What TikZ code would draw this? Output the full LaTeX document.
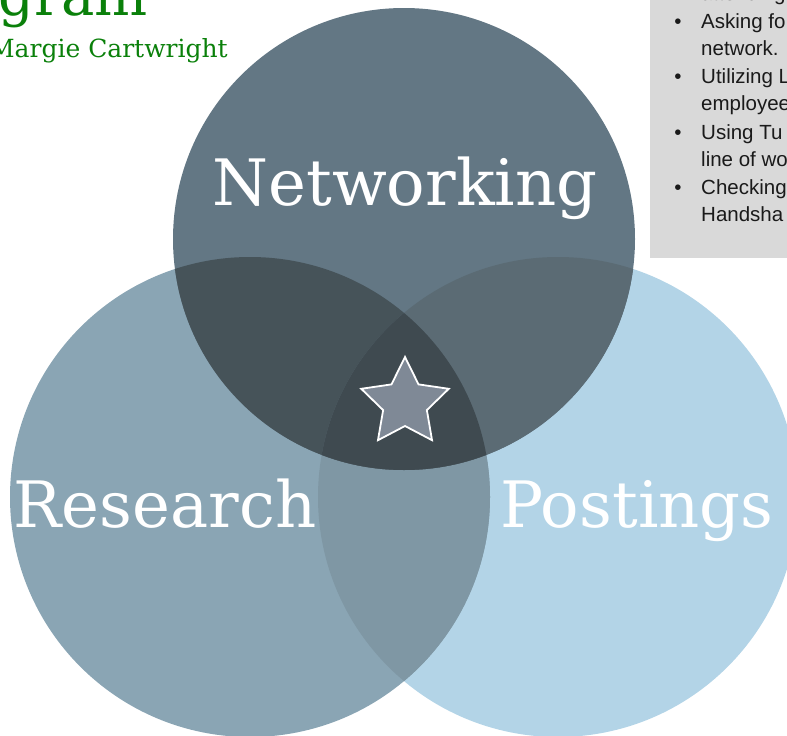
\documentclass[tikz,border=0pt]{standalone}
\usepackage{fontspec}
\usetikzlibrary{shapes.geometric}

\newfontfamily\slabfont{DejaVu Serif}
\newfontfamily\listfont{Liberation Sans}

\definecolor{netcol}{HTML}{637784}
\definecolor{rescol}{HTML}{8AA5B4}
\definecolor{postcol}{HTML}{B3D4E7}
\definecolor{nrcol}{HTML}{465359}
\definecolor{npcol}{HTML}{5B6B74}
\definecolor{rpcol}{HTML}{7F97A4}
\definecolor{allcol}{HTML}{3F4A50}
\definecolor{starcol}{HTML}{7F8996}
\definecolor{titlegreen}{HTML}{0A800A}
\definecolor{boxgray}{HTML}{D9D9D9}
\definecolor{listtext}{HTML}{1A1A1A}

\begin{document}
\begin{tikzpicture}[x=1pt, y=-1pt,
    set/.style={circle, minimum size=480, inner sep=0pt},
    setlabel/.style={text=white, inner sep=0pt, anchor=base,
        font=\slabfont\fontsize{64}{64}\selectfont},
    titletext/.style={text=titlegreen, inner sep=0pt, anchor=base east},
    item/.style={anchor=base west, align=left, inner sep=0pt, text=listtext,
        font=\listfont\fontsize{20.5}{27}\selectfont},
    bullet/.style={anchor=base, inner sep=0pt, text=listtext,
        font=\listfont\fontsize{20.5}{27}\selectfont}]

        \useasboundingbox (0,0) rectangle (787,736);
        \clip (0,0) rectangle (787,736);

        % Set Postings
        \node [set,
            fill=postcol] (P) at (558,497) {};

        % Set Research
        \node [set,
            fill=rescol,
            path picture={\fill[rpcol] (P.center) circle (240);}] (R) at (250,497) {};

        % Set Networking
        \node [set,
            minimum size=462,
            fill=netcol,
            path picture={
                \fill[nrcol] (R.center) circle (240);
                \fill[npcol] (P.center) circle (240);
                \clip (R.center) circle (240);
                \fill[allcol] (P.center) circle (240);}] (N) at (404,239) {};

        % Star in the middle
        \node [star,
            star points=5,
            star point ratio=2,
            minimum size=92,
            inner sep=0pt,
            fill=starcol,
            draw=white,
            line width=1.8pt] (S) at (405,403) {};

        % Set labels
        \node [setlabel] (Nlab) at (405,205) {Networking};
        \node [setlabel] (Rlab) at (165,527) {Research};
        \node [setlabel] (Plab) at (637,527) {Postings};

        % Title
        \node [titletext, font=\slabfont\fontsize{56}{56}\selectfont] (title) at (148,15) {gram};
        \node [titletext, font=\slabfont\fontsize{25}{25}\selectfont] (author) at (228,57) {Margie Cartwright};

        % List box
        \node [fill=boxgray,
            anchor=north west,
            inner sep=0pt,
            minimum width=160,
            minimum height=268] (box) at (650,-10) {};

        % List items (placed at the baseline of their last line)
        \node [item] (l0) at (701,1) {attending};
        \node [bullet] (b1) at (678,28) {\textbullet};
        \node [item] (l1) at (701,55) {Asking fo\\network.};
        \node [bullet] (b2) at (678,83) {\textbullet};
        \node [item] (l2) at (701,110) {Utilizing L\\employee};
        \node [bullet] (b3) at (678,139) {\textbullet};
        \node [item] (l3) at (701,166) {Using Tu\\line of wo};
        \node [bullet] (b4) at (678,194) {\textbullet};
        \node [item] (l4) at (701,221) {Checking\\Handsha};

\end{tikzpicture}
\end{document}
